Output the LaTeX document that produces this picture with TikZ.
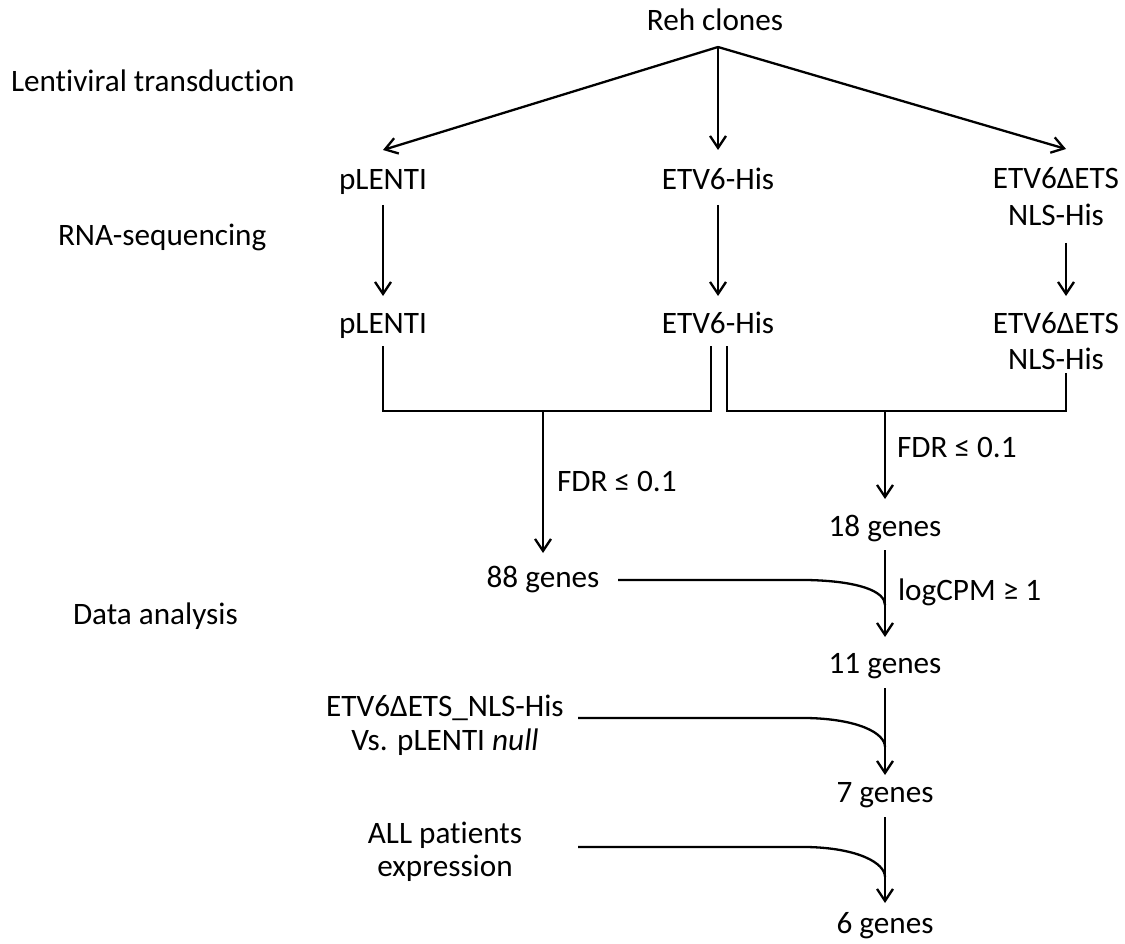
\documentclass[tikz,border=0pt]{standalone}
\usepackage{fontspec}
\setmainfont{Carlito}[Ligatures=NoCommon]
\usetikzlibrary{arrows.meta}
\begin{document}
\begin{tikzpicture}[x=1pt,y=-1pt,
  every node/.style={font=\fontsize{31.2}{37}\selectfont},
  lbl/.style={inner sep=0pt, outer sep=0pt, anchor=base, text height=22pt, text depth=8pt},
  side/.style={lbl, anchor=base west},
  ln/.style={line width=2.3pt},
  arr/.style={line width=2.3pt, -{Straight Barb[length=12pt,width=16pt,line width=2.3pt]}}]
\useasboundingbox (0,0) rectangle (1125,944);
% side labels
\node[side] (s1) at (11,92) {Lentiviral transduction};
\node[side] (s2) at (58,246) {RNA-sequencing};
\node[side] (s3) at (73,624) {Data analysis};
% nodes
\node[lbl] (reh) at (715,31) {Reh clones};
\node[lbl] (p1) at (383,190) {pLENTI};
\node[lbl] (e1) at (718,190) {ETV6-His};
\node[lbl] (d1a) at (1056,189) {ETV6ΔETS};
\node[lbl] (d1b) at (1056,226) {NLS-His};
\node[lbl] (p2) at (383,333) {pLENTI};
\node[lbl] (e2) at (718,333) {ETV6-His};
\node[lbl] (d2a) at (1056,333) {ETV6ΔETS};
\node[lbl] (d2b) at (1056,369) {NLS-His};
\node[lbl] (g88) at (543,587) {88 genes};
\node[lbl] (g18) at (885,536) {18 genes};
\node[lbl] (g11) at (885,673) {11 genes};
\node[lbl] (g7) at (885,802) {7 genes};
\node[lbl] (g6) at (885,933) {6 genes};
\node[lbl] (vsa) at (445,716) {ETV6ΔETS\_NLS-His};
\node[lbl] (vsb) at (445,750) {Vs. pLENTI \textit{null}};
\node[lbl] (alla) at (445,843) {ALL patients};
\node[lbl] (allb) at (445,876) {expression};
\node[side] (f1) at (557,491) {FDR ≤ 0.1};
\node[side] (f2) at (897,457) {FDR ≤ 0.1};
\node[side] (lc) at (898,600) {logCPM ≥ 1};
% coordinates
\coordinate (apex) at (718,47);
\coordinate (mL) at (543,411);
\coordinate (mR) at (885,411);
\coordinate (c1) at (618,580);
\coordinate (c2) at (578,718);
\coordinate (c3) at (578,847);
\coordinate (j1) at (885,605);
\coordinate (j2) at (885,747);
\coordinate (j3) at (885,877);
% top arrows
\draw[arr] (apex) -- ([yshift=18pt]p1.north);
\draw[arr] (apex) -- ([yshift=18pt]e1.north);
\draw[arr] (apex) -- ([xshift=10pt,yshift=18pt]d1a.north);
% row arrows
\draw[arr] ([yshift=-7pt]p1.south) -- ([yshift=15pt]p2.north);
\draw[arr] ([yshift=-7pt]e1.south) -- ([yshift=15pt]e2.north);
\draw[arr] ([xshift=10pt,yshift=-9pt]d1b.south) -- ([xshift=10pt,yshift=15pt]d2a.north);
% brackets
\draw[ln] ([yshift=-5pt]p2.south) |- (mL) -| ([xshift=-7pt,yshift=-5pt]e2.south);
\draw[ln] ([xshift=9pt,yshift=-5pt]e2.south) |- (mR) -| ([xshift=10pt,yshift=4pt]d2b.south);
\draw[arr] (mL) -- ([yshift=12pt]g88.north);
\draw[arr] (mR) -- ([yshift=15pt]g18.north);
% chain
\draw[arr] ([yshift=-6pt]g18.south) -- ([yshift=14pt]g11.north);
\draw[arr] ([yshift=-7pt]g11.south) -- ([yshift=5pt]g7.north);
\draw[arr] ([yshift=-7pt]g7.south) -- ([yshift=8pt]g6.north);
% merging curves
\draw[ln] (c1) -- (807,580) .. controls (858,581) and (885,591) .. (j1);
\draw[ln] (c2) -- (807,718) .. controls (858,719) and (885,733) .. (j2);
\draw[ln] (c3) -- (807,847) .. controls (858,848) and (885,863) .. (j3);
\end{tikzpicture}
\end{document}
